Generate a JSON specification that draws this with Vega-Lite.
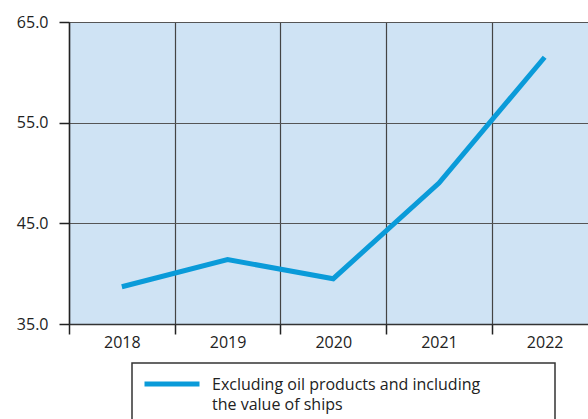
{
  "$schema": "https://vega.github.io/schema/vega-lite/v6.json",
  "width": 519,
  "height": 302,
  "autosize": {"type": "none"},
  "padding": {"left": 69, "top": 22, "right": 0, "bottom": 95},
  "background": "white",
  "config": {
    "view": {"stroke": null, "fill": "#cfe3f4"},
    "font": "Open Sans"
  },
  "data": {
    "values": [
      {"year": "2018", "value": 38.7, "series": "Excluding oil products and including the value of ships"},
      {"year": "2019", "value": 41.4, "series": "Excluding oil products and including the value of ships"},
      {"year": "2020", "value": 39.5, "series": "Excluding oil products and including the value of ships"},
      {"year": "2021", "value": 49.0, "series": "Excluding oil products and including the value of ships"},
      {"year": "2022", "value": 61.5, "series": "Excluding oil products and including the value of ships"}
    ]
  },
  "mark": {"type": "line", "strokeWidth": 5},
  "encoding": {
    "x": {
      "field": "year",
      "type": "ordinal",
      "scale": {"type": "band", "range": [0, 528.5], "paddingInner": 0, "paddingOuter": 0},
      "axis": {
        "title": null,
        "labelAngle": 0,
        "tickBand": "extent",
        "grid": true,
        "gridColor": "#444",
        "gridWidth": 1.2,
        "domainColor": "#333",
        "domainWidth": 1.5,
        "tickColor": "#222",
        "tickSize": 10,
        "tickWidth": 1.5,
        "labelFontSize": 16,
        "labelColor": "#222",
        "labelPadding": 0
      }
    },
    "y": {
      "field": "value",
      "type": "quantitative",
      "scale": {"domain": [35, 65], "nice": false, "zero": false},
      "axis": {
        "title": null,
        "values": [35, 45, 55, 65],
        "format": ".1f",
        "grid": true,
        "gridColor": "#555",
        "gridWidth": 1.2,
        "domainColor": "#222",
        "domainWidth": 1.5,
        "tickColor": "#222",
        "tickSize": 10,
        "tickWidth": 1.5,
        "labelFontSize": 16,
        "labelColor": "#222",
        "labelPadding": 11
      }
    },
    "color": {
      "field": "series",
      "type": "nominal",
      "scale": {"range": ["#0a9bd9"]},
      "legend": {
        "orient": "none",
        "legendX": 63,
        "legendY": 341,
        "title": "\u00a0",
        "titleOrient": "right",
        "titlePadding": 65,
        "titleFontSize": 10,
        "symbolType": "stroke",
        "symbolSize": 3025,
        "symbolStrokeWidth": 5,
        "labelOffset": 10,
        "labelFontSize": 16,
        "labelColor": "#222",
        "labelLimit": 500,
        "labelBaseline": "top",
        "labelExpr": "['Excluding oil products and including', 'the value of ships']",
        "padding": 10,
        "strokeColor": "#333",
        "encode": {
          "legend": {"update": {"strokeWidth": {"value": 1.5}}},
          "symbols": {"update": {"y": {"value": 11}}},
          "labels": {"update": {"lineHeight": {"value": 20}, "y": {"value": 4}}}
        }
      }
    }
  }
}
